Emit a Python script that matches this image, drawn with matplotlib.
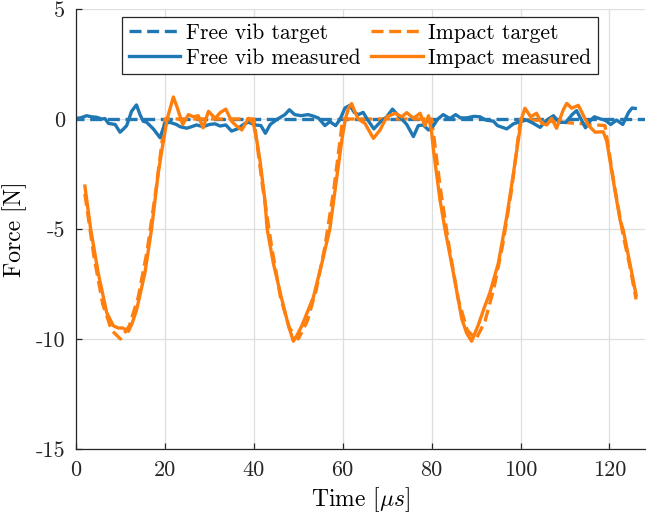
import matplotlib
matplotlib.use("Agg")
import matplotlib.pyplot as plt
import numpy as np

plt.rcParams['font.family'] = 'serif'
plt.rcParams['font.serif'] = ['cmr10']
plt.rcParams['mathtext.fontset'] = 'cm'
plt.rcParams['axes.unicode_minus'] = False
plt.rcParams['axes.formatter.use_mathtext'] = True

# ---- data ----
free_target_t = [-1.0, 130.0]
free_target_f = [0.0, 0.0]

free_meas_t = [0.0, 1.0, 2.4, 3.5, 4.6, 5.8, 6.5, 7.3, 8.8, 9.9, 10.7, 11.4, 12.5, 13.6,
               14.4, 15.1, 15.9, 17.4, 18.9, 20.0, 21.1, 22.6, 23.4, 24.9, 26.0, 27.1,
               28.6, 30.0, 31.3, 32.4, 33.7, 35.0, 36.3, 38.0, 38.9, 40.3, 41.6, 42.6,
               43.7, 45.2, 47.0, 48.0, 49.2, 50.6, 52.2, 53.4, 54.5, 56.0, 57.1, 58.4,
               59.4, 60.5, 61.6, 62.6, 63.5, 64.6, 65.4, 66.5, 67.0, 68.4, 69.9, 71.2,
               72.3, 73.3, 74.4, 75.9, 77.0, 78.1, 79.3, 80.4, 81.4, 82.6, 84.1, 85.4,
               86.5, 87.9, 89.5, 90.9, 92.2, 93.9, 94.8, 96.9, 98.4, 99.9, 101.4, 102.9,
               104.4, 105.9, 107.4, 108.7, 110.2, 111.6, 112.6, 113.6, 114.6, 115.6,
               116.6, 118.0, 119.0, 120.3, 121.6, 123.0, 124.3, 125.1, 125.8]
free_meas_f = [0.03, 0.05, 0.15, 0.10, 0.08, 0.00, 0.02, -0.20, -0.25, -0.60, -0.45, -0.30,
               0.35, 0.64, 0.20, -0.10, -0.15, -0.45, -0.85, -0.20, -0.15, -0.25, -0.35,
               -0.42, -0.35, -0.27, -0.35, -0.25, -0.22, -0.32, -0.27, -0.55, -0.45, -0.20,
               -0.15, -0.27, -0.30, -0.65, -0.25, -0.02, 0.20, 0.42, 0.20, 0.15, 0.20, 0.13,
               0.05, -0.30, -0.12, -0.30, -0.02, 0.50, 0.62, 0.30, 0.20, 0.30, 0.03, -0.30,
               -0.45, -0.15, 0.10, 0.45, 0.20, 0.00, -0.25, -0.80, -0.30, -0.27, -0.50,
               -0.30, 0.00, 0.20, 0.02, 0.20, 0.05, 0.05, 0.12, 0.10, -0.05, -0.10, -0.30,
               -0.45, -0.22, -0.12, -0.05, -0.20, -0.38, -0.05, 0.15, -0.15, -0.15, 0.20,
               0.38, 0.00, -0.40, -0.10, 0.10, 0.00, -0.05, -0.25, -0.05, -0.25, 0.30,
               0.50, 0.48]

impact_target_t = [2, 4, 6, 8, 10, 12, 14, 16, 18, 20,
                   40, 42, 44, 46, 48, 50, 52, 54, 56, 58, 60,
                   80, 82, 84, 86, 88, 90, 92, 94, 96, 98, 100,
                   119, 121, 123, 124.5, 126]
impact_target_f = [-3.4, -6.2, -8.4, -9.6, -10.0, -9.4, -8.1, -6.0, -3.2, 0.0,
                   0.0, -3.1, -5.8, -8.1, -9.5, -10.0, -9.2, -7.8, -5.8, -3.2, 0.0,
                   0.0, -3.2, -5.9, -8.2, -9.6, -10.0, -9.2, -7.7, -5.7, -3.2, 0.0,
                   -0.3, -2.9, -5.2, -6.6, -8.2]

impact_meas_t = [2.0, 3.3, 5.0, 6.9, 8.4, 9.5, 10.5, 11.8, 12.6, 13.6, 14.5, 15.5, 17.0,
                 18.5, 19.5, 20.5, 21.9, 22.8, 24.0, 25.3, 26.4, 27.5, 28.6, 29.8, 31.3,
                 32.5, 33.7, 35.0, 36.0, 37.3, 38.8, 39.9, 40.6, 41.4, 42.5, 43.0, 44.4,
                 46.3, 47.8, 48.9, 49.8, 50.8, 52.0, 53.4, 55.3, 57.1, 58.3, 59.8, 60.6,
                 61.3, 62.0, 62.8, 63.5, 65.0, 66.9, 68.4, 69.9, 71.8, 73.3, 74.4, 75.9,
                 77.4, 78.5, 79.3, 80.0, 80.4, 81.9, 83.0, 84.9, 86.8, 87.9, 89.0, 90.5,
                 91.8, 93.1, 95.0, 96.9, 98.4, 99.5, 100.2, 101.0, 102.3, 103.6, 104.8,
                 105.9, 107.0, 108.1, 109.6, 110.4, 111.5, 113.0, 114.1, 115.3, 116.8,
                 118.6, 119.4, 121.2, 122.4, 123.1, 124.6, 126.0]
impact_meas_f = [-3.05, -5.0, -7.0, -8.8, -9.4, -9.5, -9.5, -9.65, -9.3, -8.7, -7.9, -7.0,
                 -5.0, -2.45, -1.2, 0.0, 1.0, 0.5, -0.25, 0.2, 0.1, 0.15, -0.4, 0.35, 0.03,
                 0.3, 0.45, -0.1, -0.3, -0.5, 0.03, -0.2, -0.9, -1.9, -3.7, -5.0, -6.56,
                 -8.2, -9.4, -10.1, -9.8, -9.4, -8.8, -8.1, -6.56, -5.0, -3.2, -0.95, 0.0,
                 0.5, 0.7, 0.3, 0.0, -0.2, -0.88, -0.5, 0.1, 0.26, 0.1, 0.29, 0.03, 0.26,
                 -0.3, 0.15, -0.6, -1.4, -3.7, -5.0, -7.0, -9.1, -9.74, -10.1, -9.36, -8.6,
                 -7.9, -6.56, -4.44, -2.47, -0.95, 0.0, 0.49, 0.1, 0.26, -0.2, -0.27, 0.03,
                 -0.42, 0.41, 0.71, 0.49, 0.62, 0.18, -0.3, -0.6, -0.58, -1.0, -3.2, -4.6,
                 -5.05, -6.56, -8.0]

x_ticks = [0, 20, 40, 60, 80, 100, 120]
y_ticks = [-15, -10, -5, 0, 5]
y_tick_labels = ['-15', '-10', '-5', '0', '5']

blue = '#1f77b4'
orange = '#ff7f0e'

fig = plt.figure(figsize=(6.46, 5.19), dpi=100)
ax = fig.add_axes([76/646, 1 - 449/519, 569/646, 440/519])

lw = 2.4
dash = (3.6, 1.7)
l1, = ax.plot(free_target_t, free_target_f, color=blue, lw=lw, dashes=dash, label='Free vib target')
l2, = ax.plot(impact_target_t, impact_target_f, color=orange, lw=lw, dashes=dash, label='Impact target')
l3, = ax.plot(free_meas_t, free_meas_f, color=blue, lw=lw, label='Free vib measured')
l4, = ax.plot(impact_meas_t, impact_meas_f, color=orange, lw=lw, label='Impact measured')

ax.set_xlim(0, 128)
ax.set_ylim(-15, 5)
ax.set_xticks(x_ticks)
ax.set_xticklabels([str(v) for v in x_ticks])
ax.set_yticks(y_ticks)
ax.set_yticklabels(y_tick_labels)

ax.grid(True, color='#dedede', lw=0.9)
ax.set_axisbelow(True)
for s in ['top', 'right']:
    ax.spines[s].set_visible(False)
for s in ['left', 'bottom']:
    ax.spines[s].set_color('#262626')
    ax.spines[s].set_linewidth(0.9)
ax.tick_params(direction='in', length=4, width=0.9, colors='#262626',
               labelsize=16, pad=8)

ax.set_xlabel(r'Time [$\mu s$]', fontsize=17, labelpad=4)
ax.set_ylabel('Force [N]', fontsize=17, labelpad=6)

leg = ax.legend(handles=[l1, l3, l2, l4], ncol=2, loc='upper left',
                bbox_to_anchor=(0.081, 0.982), borderaxespad=0,
                fontsize=15.5, frameon=True, fancybox=False, framealpha=1,
                edgecolor='#262626', handlelength=2.4, handletextpad=0.25,
                columnspacing=0.5, labelspacing=0.25, borderpad=0.3)
leg.get_frame().set_linewidth(0.9)

fig.savefig('out.png', dpi=100)
